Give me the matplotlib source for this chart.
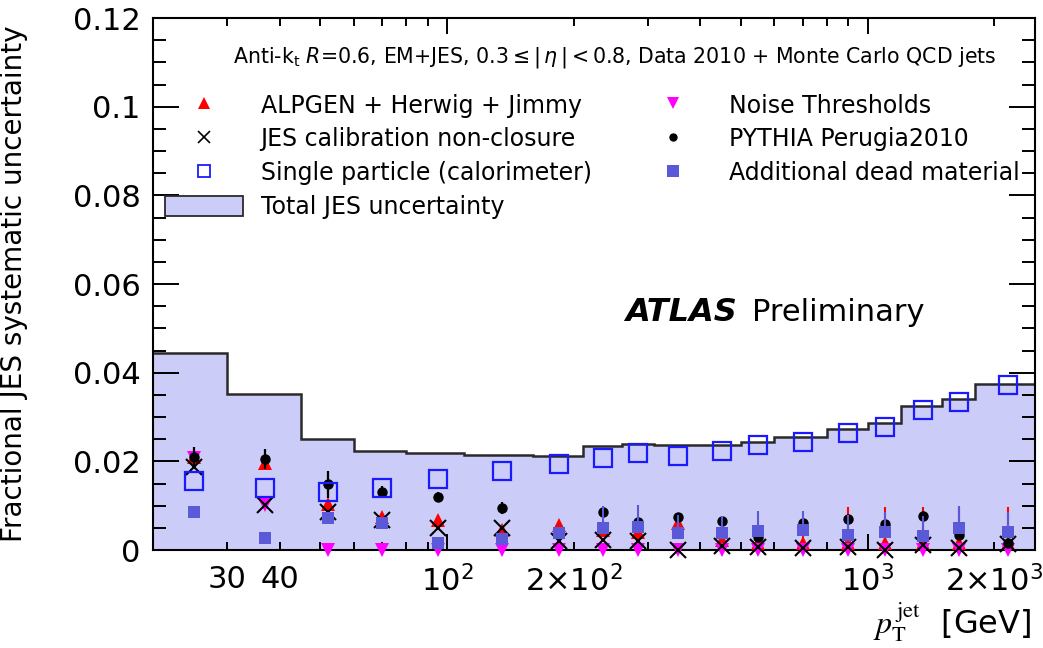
import numpy as np
import matplotlib
matplotlib.use('Agg')
import matplotlib.pyplot as plt
from matplotlib.lines import Line2D
from matplotlib.patches import Patch
from matplotlib.ticker import FixedLocator, FuncFormatter

bin_edges = [20, 30, 45, 60, 80, 110, 160, 210, 260, 310, 400, 500, 600, 800, 1000, 1200, 1500, 1800, 2500]
pt_centre = [25, 37, 52, 70, 95, 135, 185, 235, 285, 355, 450, 550, 700, 900, 1100, 1350, 1650, 2150]

total_jes = [0.0445, 0.0353, 0.0250, 0.0223, 0.0218, 0.0214, 0.0212, 0.0235, 0.0240, 0.0236,
             0.0236, 0.0244, 0.0256, 0.0274, 0.0286, 0.0325, 0.0340, 0.0374]
alpgen = [0.0210, 0.0197, 0.0104, 0.0075, 0.0068, 0.0045, 0.0056, 0.0045, 0.0041, 0.0060,
          0.0023, 0.0015, 0.0015, 0.0015, 0.0015, 0.0015, 0.0015, 0.0015]
alpgen_err = [0.0010, 0.0010, 0.0008, 0.0005, 0.0005, 0.0005, 0.0005, 0.0010, 0.0010, 0.0010,
              0.0020, 0.0030, 0.0040, 0.0083, 0.0083, 0.0083, 0.0083, 0.0083]
noise = [0.0207, 0.0101, 0.0, 0.0, 0.0, 0.0, 0.0, 0.0, 0.0, 0.0,
         0.0, 0.0, 0.0, 0.0, 0.0, 0.0, 0.0, 0.0]
non_closure = [0.0188, 0.0101, 0.0086, 0.0068, 0.0049, 0.0049, 0.0020, 0.0023, 0.0020, 0.0,
               0.0010, 0.0007, 0.0005, 0.0007, 0.0, 0.0011, 0.0004, 0.0013]
pythia = [0.0209, 0.0205, 0.0148, 0.0132, 0.0120, 0.0095, 0.0040, 0.0086, 0.0064, 0.0075,
          0.0065, 0.0030, 0.0062, 0.0069, 0.0058, 0.0077, 0.0034, 0.0015]
pythia_err = [0.0023, 0.0023, 0.0031, 0.0013, 0.0010, 0.0013, 0.0010, 0.0010, 0.0010, 0.0008,
              0.0010, 0.0010, 0.0010, 0.0010, 0.0010, 0.0010, 0.0010, 0.0010]
single_particle = [0.0156, 0.0141, 0.0131, 0.0140, 0.0160, 0.0179, 0.0193, 0.0207, 0.0219, 0.0212,
                   0.0223, 0.0238, 0.0244, 0.0263, 0.0278, 0.0315, 0.0335, 0.0372]
dead_material = [0.0085, 0.0026, 0.0073, 0.0060, 0.0016, 0.0024, 0.0039, 0.0049, 0.0053, 0.0038,
                 0.0038, 0.0043, 0.0045, 0.0035, 0.0041, 0.0032, 0.0050, 0.0040]
dead_material_err = [0.0, 0.0, 0.0, 0.0, 0.0, 0.0, 0.0005, 0.0050, 0.0049, 0.0040,
                     0.0038, 0.0045, 0.0044, 0.0045, 0.0045, 0.0045, 0.0050, 0.0045]

x_labels = {30: '30', 40: '40', 100: '10$^{2}$', 200: '2\u00d710$^{2}$',
            1000: '10$^{3}$', 2000: '2\u00d710$^{3}$'}
y_ticks = [0, 0.02, 0.04, 0.06, 0.08, 0.1, 0.12]

fill_col = '#ccccf8'
red = '#ff0000'
magenta = '#ff00ff'
blue = '#1a1aff'
dm_col = '#5a5ad8'

fig = plt.figure(figsize=(10.43, 6.48), dpi=100)
ax = fig.add_axes([0.1467, 0.1512, 0.8457, 0.8210])

ax.stairs(total_jes, bin_edges, fill=True, color=fill_col, zorder=0)
ax.stairs(total_jes, bin_edges, baseline=None, color='#2a2a2a', lw=1.8, zorder=1)

ax.errorbar(pt_centre, alpgen, yerr=[np.zeros(len(alpgen)), alpgen_err], fmt='^', color=red,
            ms=10, mew=0, elinewidth=1.5, capsize=0, zorder=3, clip_on=False)
ax.plot(pt_centre, noise, 'v', color=magenta, ms=10, mew=0, zorder=4, clip_on=False)
ax.plot(pt_centre, non_closure, 'x', color='black', ms=11, mew=1.5, zorder=5, clip_on=False)
ax.errorbar(pt_centre, pythia, yerr=pythia_err, fmt='o', color='black', ms=6.5,
            elinewidth=1.6, capsize=0, zorder=6)
ax.plot(pt_centre, single_particle, 's', mfc='none', mec=blue, ms=13.5, mew=1.6, zorder=7)
ax.errorbar(pt_centre, dead_material, yerr=[np.zeros(len(dead_material)), dead_material_err],
            fmt='s', color=dm_col, ms=9, mew=0, elinewidth=1.5, capsize=0, zorder=8)

ax.set_xscale('log')
ax.set_xlim(20, 2500)
ax.set_ylim(0, 0.12)

ax.xaxis.set_major_locator(FixedLocator([100, 1000]))
ax.xaxis.set_minor_locator(FixedLocator([20, 30, 40, 50, 60, 70, 80, 90, 200, 300, 400, 500,
                                         600, 700, 800, 900, 2000]))
ax.xaxis.set_major_formatter(FuncFormatter(lambda v, p: x_labels.get(int(round(v)), '')))
ax.xaxis.set_minor_formatter(FuncFormatter(lambda v, p: x_labels.get(int(round(v)), '')))
ax.set_yticks(y_ticks)
ax.yaxis.set_major_formatter(FuncFormatter(lambda v, p: '%g' % v))
ax.yaxis.set_minor_locator(FixedLocator(np.arange(0, 0.1201, 0.005)))

ax.tick_params(which='both', direction='in', top=True, right=True, width=1.4, labelsize=22)
ax.tick_params(axis='y', which='major', length=19, pad=9)
ax.tick_params(axis='y', which='minor', length=9.5)
ax.tick_params(axis='x', which='major', length=11.5, pad=11)
ax.tick_params(axis='x', which='minor', length=5.5, pad=11)
for s in ax.spines.values():
    s.set_linewidth(1.5)

ax.set_ylabel('Fractional JES systematic uncertainty', fontsize=20)
ax.yaxis.set_label_coords(-0.142, 0.5)
ax.set_xlabel(r'$p_{\mathrm{T}}^{\,\mathrm{jet}}$  [GeV]', fontsize=23, loc='right')
ax.xaxis.label.set_math_fontfamily('stix')
ax.xaxis.set_label_coords(0.995, -0.095)

ax.text(0.524, 0.925, r'Anti-k$_{\mathrm{t}}$ $R$=0.6, EM+JES, 0.3$\leq|\,\eta\,|<$0.8, Data 2010 + Monte Carlo QCD jets',
        transform=ax.transAxes, ha='center', va='center', fontsize=14.8)
ax.text(0.535, 0.447, 'ATLAS', transform=ax.transAxes, ha='left', va='center', fontsize=23,
        fontweight='bold', fontstyle='italic')
ax.text(0.679, 0.447, 'Preliminary', transform=ax.transAxes, ha='left', va='center', fontsize=22)

left_handles = [
    Line2D([], [], ls='none', marker='^', color=red, ms=9, mew=0),
    Line2D([], [], ls='none', marker='x', color='black', ms=9, mew=1.2),
    Line2D([], [], ls='none', marker='s', mfc='none', mec=blue, ms=9, mew=1.3),
    Patch(facecolor=fill_col, edgecolor='#2a2a2a', lw=1.3),
]
left_names = ['ALPGEN + Herwig + Jimmy', 'JES calibration non-closure',
              'Single particle (calorimeter)', 'Total JES uncertainty']
right_handles = [
    Line2D([], [], ls='none', marker='v', color=magenta, ms=9, mew=0),
    Line2D([], [], ls='none', marker='o', color='black', ms=5),
    Line2D([], [], ls='none', marker='s', color=dm_col, ms=8, mew=0),
]
right_names = ['Noise Thresholds', 'PYTHIA Perugia2010', 'Additional dead material']

leg1 = ax.legend(left_handles, left_names, loc='upper left', bbox_to_anchor=(0.0136, 0.858),
                 frameon=False, fontsize=17, borderpad=0, borderaxespad=0, handlelength=3.3,
                 handleheight=0.95, handletextpad=0.75, labelspacing=0.42)
ax.add_artist(leg1)
ax.legend(right_handles, right_names, loc='upper left', bbox_to_anchor=(0.545, 0.858),
          frameon=False, fontsize=17, borderpad=0, borderaxespad=0, handlelength=3.3,
          handleheight=0.95, handletextpad=0.75, labelspacing=0.42)

fig.savefig('out.png', dpi=100)
